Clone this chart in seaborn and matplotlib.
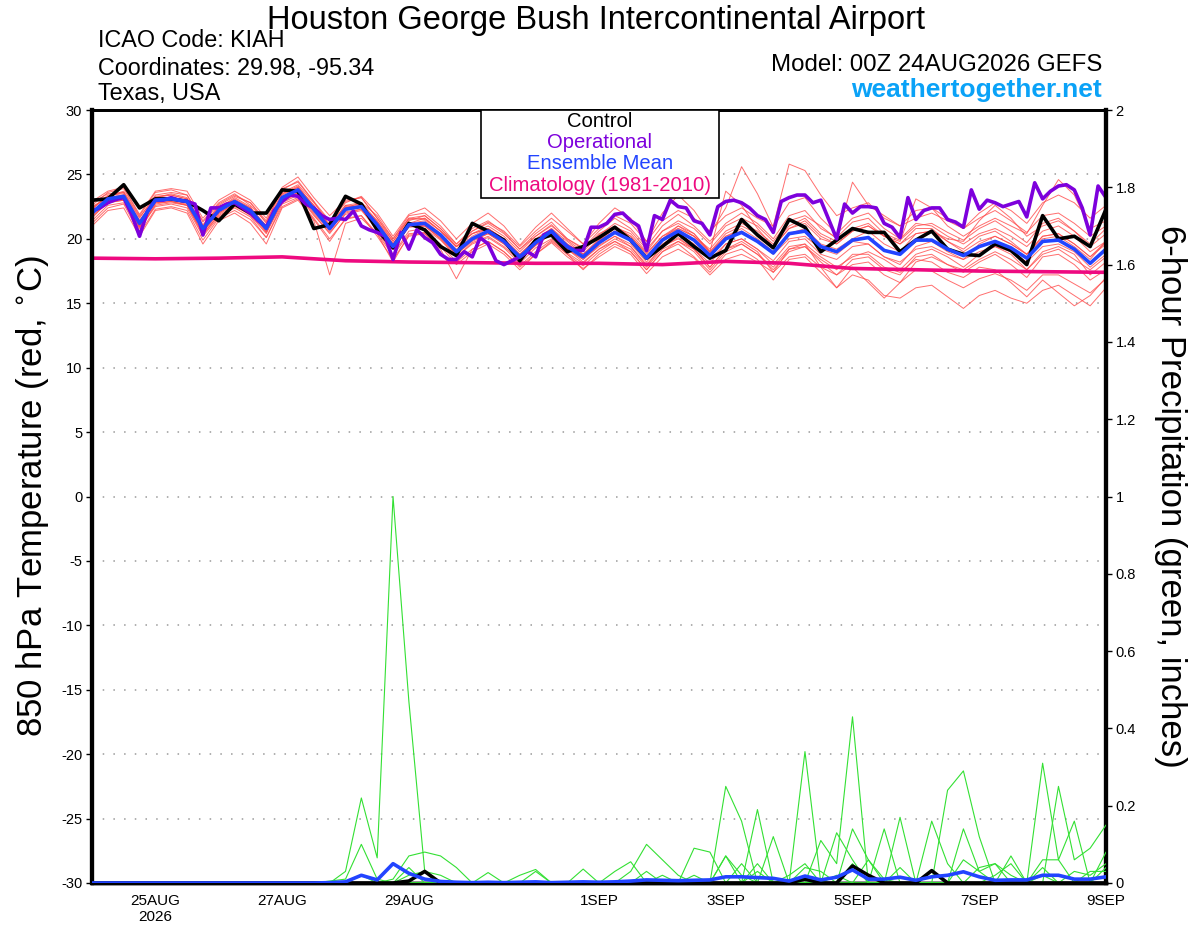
import numpy as np
import pandas as pd
import matplotlib
matplotlib.use("Agg")
import matplotlib.pyplot as plt
import seaborn as sns
from matplotlib.patches import Rectangle
from matplotlib.ticker import FormatStrFormatter

# ---------------- DATA ----------------
forecast_hours = list(range(0, 385, 6))          # 6-hourly GEFS steps
oper_hours = list(range(0, 385, 3))              # 3-hourly operational steps

tick_hours = [24, 72, 120, 192, 240, 288, 336, 384]
tick_labels = ["25AUG\n2026", "27AUG", "29AUG", "1SEP", "3SEP", "5SEP", "7SEP", "9SEP"]

control_temp = [23.0, 23.1, 24.2, 22.4, 23.1, 23.1, 22.9, 22.2, 21.4, 22.7, 22.0, 22.0, 23.8, 23.7, 20.8, 21.1,
                23.3, 22.7, 20.7, 19.3, 21.2, 20.7, 19.4, 18.7, 21.2, 20.6, 19.9, 18.3, 19.9, 20.3, 19.0, 19.4,
                20.1, 20.9, 19.9, 18.5, 19.4, 20.4, 19.4, 18.5, 19.1, 21.5, 20.3, 19.3, 21.5, 20.9, 19.0, 19.9,
                20.8, 20.5, 20.5, 19.0, 19.9, 20.6, 19.2, 18.8, 18.7, 19.6, 19.1, 18.0, 21.8, 20.0, 20.2, 19.4,
                22.3]

mean_temp = [22.0, 23.1, 23.3, 21.2, 23.0, 23.1, 22.9, 20.8, 22.2, 22.9, 22.2, 20.8, 23.2, 23.8, 22.3, 20.8,
             22.3, 22.5, 21.1, 19.4, 21.1, 21.2, 20.3, 19.0, 20.0, 20.6, 19.8, 18.6, 19.7, 20.6, 19.4, 18.6,
             19.7, 20.5, 19.9, 18.5, 19.9, 20.6, 19.9, 18.7, 20.0, 20.5, 19.8, 18.9, 20.4, 20.6, 19.4, 19.0,
             19.9, 20.1, 19.1, 18.8, 19.9, 19.9, 19.2, 18.7, 19.4, 19.8, 19.3, 18.5, 19.8, 19.9, 19.2, 18.1,
             19.2]

oper_temp = [22.15, 22.4, 22.8, 23.05, 23.2, 21.9, 20.2, 22.15,
             23.0, 23.0, 23.2, 23.0, 22.9, 22.7, 20.3, 22.4,
             22.4, 22.7, 22.8, 22.4, 22.0, 21.4, 20.9, 22.2,
             22.9, 23.4, 23.3, 22.7, 22.4, 21.8, 21.5, 21.6,
             21.5, 22.15, 21.0, 20.7, 20.5, 20.2, 18.4, 20.5,
             19.2, 20.7, 20.1, 19.7, 18.8, 18.4, 18.4, 19.0,
             18.6, 20.1, 19.6, 18.3, 18.0, 18.3, 18.6, 19.0,
             18.6, 20.3, 20.6, 19.9, 19.4, 19.1, 19.1, 20.9,
             20.9, 21.2, 21.9, 22.0, 21.4, 21.0, 19.1, 21.8,
             21.5, 23.0, 22.5, 22.4, 21.4, 21.2, 20.3, 22.5,
             22.9, 23.0, 22.8, 22.4, 21.8, 21.5, 20.5, 22.9,
             23.2, 23.4, 23.4, 22.8, 23.0, 21.5, 20.0, 22.7,
             22.0, 22.5, 22.5, 22.4, 21.2, 20.9, 20.1, 23.2,
             21.5, 22.2, 22.4, 22.4, 21.5, 21.3, 20.9, 23.8,
             22.3, 23.0, 22.8, 22.5, 22.7, 22.9, 21.7, 24.35,
             23.1, 23.7, 24.1, 24.2, 23.8, 22.4, 20.3, 24.1,
             23.2]

clim_hours = [0, 24, 48, 72, 96, 120, 144, 168, 192, 216, 240, 264, 288, 312, 336, 360, 384]
clim_temp = [18.5, 18.45, 18.5, 18.6, 18.3, 18.2, 18.15, 18.1, 18.1, 18.0, 18.25, 18.1, 17.7, 17.6, 17.5, 17.45, 17.4]

member_temp = {
    "m01": [22.6, 23.6, 23.9, 21.8, 23.6, 23.8, 23.4, 21.4, 22.8, 23.5, 22.6, 21.3, 23.9, 24.4, 22.9, 21.4, 22.9, 23.2, 21.6, 20.0, 21.8, 22.0, 21.0, 19.6, 20.8, 21.4, 20.5, 19.2, 20.4, 21.3, 20.0, 19.3, 20.6, 21.6, 20.8, 19.4, 21.0, 21.9, 21.0, 19.8, 21.2, 22.0, 21.2, 20.0, 21.8, 22.2, 20.8, 20.1, 21.3, 21.6, 20.4, 19.9, 21.0, 21.2, 20.5, 19.9, 20.8, 21.4, 20.6, 19.7, 21.2, 21.6, 20.6, 19.6, 20.8],
    "m02": [21.2, 22.4, 22.7, 20.4, 22.3, 22.5, 22.2, 19.9, 21.6, 22.2, 21.5, 20.1, 22.5, 23.1, 21.6, 20.0, 21.5, 21.8, 20.4, 18.7, 20.4, 20.5, 19.6, 18.2, 19.2, 19.8, 19.0, 17.8, 18.8, 19.7, 18.6, 17.7, 18.6, 19.4, 18.8, 17.3, 18.6, 19.2, 18.5, 17.2, 18.4, 18.8, 18.2, 17.4, 18.6, 18.8, 17.8, 17.2, 18.0, 18.2, 17.2, 16.6, 17.6, 17.5, 16.8, 16.2, 16.9, 17.3, 16.8, 16.0, 17.2, 17.2, 16.5, 15.8, 16.9],
    "m03": [22.4, 23.3, 23.7, 21.7, 23.2, 23.5, 23.2, 21.0, 22.6, 23.3, 22.8, 21.2, 23.6, 24.2, 22.8, 21.3, 22.8, 23.3, 22.0, 20.2, 21.9, 22.4, 21.4, 20.0, 21.2, 22.0, 21.0, 19.5, 20.9, 22.0, 20.8, 19.6, 21.2, 22.4, 21.6, 19.8, 22.0, 23.4, 22.2, 20.4, 22.4, 25.6, 23.5, 20.9, 22.8, 23.2, 21.6, 20.4, 21.6, 22.0, 20.8, 20.0, 21.2, 21.0, 20.2, 19.6, 20.4, 20.8, 20.2, 19.4, 20.6, 21.0, 20.2, 19.0, 19.8],
    "m04": [21.8, 22.8, 23.0, 20.9, 22.8, 22.9, 22.6, 20.5, 22.0, 22.7, 22.0, 20.6, 23.0, 23.6, 22.0, 20.6, 22.2, 22.6, 21.4, 19.6, 21.4, 21.8, 20.8, 19.4, 20.6, 21.3, 20.6, 19.4, 20.6, 21.6, 20.6, 19.6, 20.8, 21.8, 21.2, 19.8, 21.4, 22.2, 21.6, 20.6, 21.8, 22.4, 21.6, 21.0, 25.8, 25.3, 23.4, 21.8, 22.4, 22.8, 21.6, 21.0, 22.2, 22.4, 21.6, 20.8, 21.6, 22.2, 21.4, 20.5, 21.8, 22.0, 21.2, 20.2, 21.0],
    "m05": [22.3, 23.4, 23.5, 21.0, 23.3, 23.4, 23.1, 20.6, 22.4, 23.2, 22.5, 20.5, 23.5, 24.0, 22.6, 20.9, 22.5, 22.7, 21.3, 19.2, 21.0, 21.0, 20.0, 18.6, 19.7, 20.2, 19.4, 18.3, 19.5, 20.4, 19.2, 18.2, 19.2, 19.8, 19.0, 17.6, 19.0, 19.6, 18.6, 17.4, 18.8, 19.2, 18.4, 16.8, 18.4, 18.6, 17.4, 16.2, 17.2, 16.8, 15.6, 15.4, 16.2, 16.4, 15.5, 14.6, 15.6, 16.0, 15.4, 15.0, 16.0, 16.4, 15.6, 14.8, 16.2],
    "m06": [21.6, 22.9, 23.2, 20.6, 22.7, 22.9, 22.6, 20.3, 21.9, 22.6, 21.8, 20.4, 22.9, 23.5, 21.9, 20.4, 22.0, 22.3, 20.6, 18.8, 20.6, 20.8, 19.9, 18.6, 19.6, 20.1, 19.3, 18.1, 19.3, 20.0, 18.9, 18.1, 19.2, 20.0, 19.4, 17.9, 19.4, 20.1, 19.2, 18.1, 19.6, 20.0, 19.2, 18.3, 19.8, 20.0, 18.8, 18.4, 19.4, 19.6, 18.6, 18.0, 19.4, 19.8, 19.0, 18.4, 19.6, 20.2, 19.6, 18.8, 20.2, 20.4, 19.6, 18.6, 19.6],
    "m07": [22.5, 23.2, 23.4, 21.4, 23.1, 23.2, 23.0, 21.1, 22.4, 23.1, 22.4, 21.0, 23.4, 24.0, 22.6, 21.0, 22.6, 22.8, 21.4, 19.8, 21.5, 21.6, 20.6, 19.4, 20.4, 21.0, 20.2, 19.0, 20.2, 21.1, 19.9, 19.0, 20.3, 21.2, 20.6, 19.2, 20.6, 21.4, 20.8, 19.6, 21.0, 21.6, 21.0, 19.8, 21.4, 21.8, 21.0, 20.0, 24.4, 22.6, 21.8, 21.0, 21.6, 22.0, 21.4, 20.8, 22.0, 22.8, 22.2, 21.2, 22.8, 23.4, 22.8, 21.6, 22.6],
    "m08": [21.4, 22.6, 22.8, 20.8, 22.5, 22.7, 22.4, 20.2, 21.7, 22.4, 21.7, 20.1, 22.7, 23.2, 21.4, 17.2, 21.2, 21.6, 20.4, 18.2, 20.3, 20.4, 19.2, 16.9, 19.2, 19.8, 19.0, 17.9, 19.0, 19.9, 18.8, 17.9, 19.0, 19.8, 19.2, 17.8, 19.2, 19.8, 19.0, 17.6, 19.0, 19.6, 18.8, 17.6, 19.0, 19.4, 18.2, 17.2, 18.4, 18.6, 17.6, 17.2, 18.6, 18.8, 18.0, 17.4, 18.2, 18.8, 18.0, 17.0, 18.6, 18.8, 18.0, 16.8, 17.6],
    "m09": [22.2, 23.0, 23.2, 21.0, 22.9, 23.0, 22.8, 20.7, 22.1, 22.8, 22.2, 20.9, 23.2, 23.8, 22.4, 20.9, 22.4, 22.6, 21.2, 19.6, 21.2, 21.4, 20.4, 19.2, 20.2, 20.8, 20.0, 18.8, 19.9, 20.8, 19.6, 18.8, 20.0, 20.9, 20.4, 19.0, 20.6, 21.2, 20.4, 19.0, 23.7, 22.6, 20.8, 19.4, 20.8, 21.4, 20.2, 19.6, 20.6, 21.0, 20.2, 19.6, 20.8, 20.8, 19.8, 19.2, 20.2, 20.6, 19.8, 18.8, 20.0, 20.2, 19.4, 18.4, 19.8],
    "m10": [21.9, 23.0, 23.1, 21.0, 22.8, 22.9, 22.7, 20.6, 22.0, 22.7, 22.0, 20.7, 23.0, 23.6, 22.1, 20.7, 22.1, 22.3, 20.9, 19.2, 20.9, 21.0, 20.1, 18.8, 19.8, 20.4, 19.6, 18.4, 19.5, 20.4, 19.2, 18.4, 19.4, 20.2, 19.6, 18.2, 19.6, 20.4, 19.6, 18.4, 19.6, 20.0, 19.2, 18.0, 19.4, 19.6, 17.8, 16.2, 17.8, 16.6, 15.4, 16.6, 18.2, 18.6, 18.0, 17.6, 18.4, 19.0, 18.4, 17.6, 18.8, 19.2, 18.4, 17.6, 18.6],
    "m11": [22.8, 23.5, 23.6, 21.6, 23.4, 23.6, 23.4, 21.3, 22.7, 23.4, 22.8, 21.4, 23.8, 24.5, 22.9, 21.0, 22.4, 22.8, 21.8, 20.0, 21.6, 21.8, 20.8, 19.6, 20.6, 21.2, 20.4, 19.2, 20.2, 21.0, 20.0, 19.2, 20.4, 21.0, 20.2, 18.9, 20.2, 20.8, 20.2, 19.0, 20.2, 20.6, 19.8, 18.8, 20.0, 20.2, 19.2, 18.8, 19.8, 19.6, 18.6, 18.2, 19.2, 19.4, 18.8, 18.4, 19.0, 19.4, 19.0, 18.2, 19.4, 19.6, 19.0, 17.8, 18.8],
    "m12": [21.7, 22.8, 23.0, 20.9, 22.6, 22.8, 22.6, 20.4, 21.8, 22.5, 21.9, 20.5, 22.8, 23.4, 21.8, 20.5, 21.9, 22.2, 20.8, 19.2, 21.0, 21.0, 20.0, 18.8, 19.9, 20.5, 19.7, 18.5, 19.8, 20.6, 19.4, 18.6, 19.9, 20.8, 20.2, 18.8, 20.2, 21.0, 20.4, 19.0, 20.4, 21.0, 20.4, 19.4, 20.8, 21.2, 20.0, 19.6, 20.6, 21.0, 20.2, 19.8, 23.1, 22.4, 21.0, 20.2, 21.0, 21.6, 21.0, 20.4, 22.6, 24.6, 23.4, 20.8, 21.4],
    "m13": [22.1, 23.2, 23.4, 21.3, 23.1, 23.2, 23.0, 20.9, 22.3, 23.0, 22.3, 20.9, 23.3, 23.9, 22.4, 20.9, 22.4, 22.6, 21.0, 19.3, 21.0, 21.1, 20.2, 18.9, 19.9, 20.4, 19.6, 18.4, 19.5, 20.4, 19.2, 18.4, 19.5, 20.2, 19.4, 18.0, 19.4, 20.0, 19.2, 17.8, 19.2, 19.6, 18.8, 17.8, 19.2, 19.4, 18.4, 17.6, 18.8, 18.8, 17.8, 17.4, 18.4, 18.2, 17.4, 17.0, 17.8, 17.6, 16.6, 15.5, 16.8, 15.8, 14.8, 15.6, 17.0],
    "m14": [22.9, 23.7, 24.0, 21.9, 23.7, 23.9, 23.7, 21.6, 23.0, 23.7, 23.0, 21.6, 24.0, 24.8, 23.2, 21.8, 23.0, 23.2, 21.6, 19.8, 21.6, 21.5, 20.6, 19.4, 20.4, 20.8, 20.0, 18.6, 19.8, 20.6, 19.6, 18.8, 19.8, 20.6, 20.0, 18.6, 20.0, 20.8, 20.2, 19.2, 20.6, 21.2, 20.6, 19.6, 21.0, 21.6, 20.4, 19.8, 20.8, 21.2, 20.2, 19.6, 20.4, 20.6, 20.0, 19.8, 21.4, 22.6, 21.6, 20.2, 21.0, 21.4, 20.6, 19.4, 20.4],
    "m15": [21.0, 22.2, 22.4, 20.2, 22.2, 22.4, 22.0, 19.6, 21.4, 22.0, 21.2, 19.6, 22.4, 23.0, 21.5, 19.8, 21.6, 21.8, 20.2, 18.4, 20.2, 20.4, 19.4, 18.0, 19.0, 19.6, 18.8, 17.6, 18.8, 19.8, 18.8, 17.6, 18.8, 19.6, 19.0, 17.6, 19.0, 19.8, 19.2, 17.8, 19.2, 19.8, 19.0, 17.4, 19.2, 19.6, 18.6, 17.8, 18.6, 19.0, 18.4, 17.6, 18.8, 19.2, 18.6, 17.8, 18.8, 19.4, 18.8, 17.6, 19.0, 19.4, 18.8, 17.2, 18.2],
    "m16": [22.3, 23.3, 23.6, 21.4, 23.2, 23.4, 23.1, 21.0, 22.5, 23.0, 22.4, 21.0, 23.5, 24.1, 22.5, 21.1, 22.6, 22.4, 21.2, 19.6, 21.2, 21.6, 20.6, 19.4, 20.4, 20.8, 20.0, 18.8, 20.0, 20.8, 19.8, 18.8, 19.9, 20.6, 20.0, 18.6, 20.0, 21.0, 20.2, 18.9, 20.2, 20.8, 20.0, 19.0, 20.4, 20.8, 19.6, 19.2, 20.0, 20.6, 19.6, 19.0, 20.4, 20.6, 19.8, 19.0, 19.8, 20.2, 19.6, 18.8, 20.2, 20.4, 19.6, 18.6, 19.8],
}

control_precip = [0, 0, 0, 0, 0, 0, 0, 0, 0, 0, 0, 0, 0, 0, 0, 0,
                  0, 0, 0, 0, 0.005, 0.03, 0, 0, 0, 0, 0, 0, 0, 0, 0, 0,
                  0, 0, 0, 0, 0, 0, 0, 0, 0, 0, 0, 0, 0, 0.01, 0, 0,
                  0.044, 0.02, 0, 0, 0, 0.032, 0, 0, 0, 0, 0, 0, 0, 0, 0, 0,
                  0]

mean_precip = [0, 0, 0, 0, 0, 0, 0, 0, 0, 0, 0, 0, 0, 0, 0, 0.001,
               0.003, 0.02, 0.008, 0.05, 0.025, 0.01, 0.004, 0.002, 0.001, 0.002, 0.001, 0.002, 0.003, 0.001, 0.002, 0.003,
               0.002, 0.003, 0.005, 0.008, 0.007, 0.006, 0.007, 0.008, 0.016, 0.016, 0.014, 0.012, 0.005, 0.018, 0.008, 0.015,
               0.034, 0.01, 0.01, 0.015, 0.007, 0.016, 0.02, 0.029, 0.016, 0.007, 0.008, 0.008, 0.02, 0.02, 0.01, 0.01,
               0.016]

member_precip = {
    "g1": [0, 0, 0, 0, 0, 0, 0, 0, 0, 0, 0, 0, 0, 0, 0, 0,
           0.03, 0.22, 0.065, 1.0, 0.47, 0.03, 0, 0, 0, 0, 0, 0, 0, 0, 0, 0,
           0, 0, 0, 0, 0, 0, 0, 0, 0.07, 0.02, 0, 0, 0, 0, 0, 0.02,
           0, 0, 0, 0, 0, 0, 0, 0.06, 0.03, 0, 0, 0, 0, 0, 0, 0,
           0],
    "g2": [0, 0, 0, 0, 0, 0, 0, 0, 0, 0, 0, 0, 0, 0, 0, 0.005,
           0.01, 0.10, 0.01, 0, 0.04, 0, 0, 0, 0, 0, 0, 0, 0, 0, 0, 0,
           0, 0, 0.03, 0.10, 0.06, 0.02, 0, 0, 0.25, 0.16, 0, 0, 0, 0, 0, 0,
           0.14, 0.06, 0, 0, 0, 0, 0, 0, 0, 0, 0, 0, 0, 0.25, 0.06, 0.09,
           0.15],
    "g3": [0, 0, 0, 0, 0, 0, 0, 0, 0, 0, 0, 0, 0, 0, 0, 0,
           0, 0, 0, 0.01, 0.07, 0.08, 0.07, 0.04, 0, 0.027, 0, 0, 0, 0, 0, 0,
           0, 0, 0, 0, 0, 0, 0.09, 0.08, 0, 0, 0.19, 0, 0, 0.34, 0, 0,
           0, 0, 0, 0, 0, 0.16, 0.05, 0, 0, 0, 0, 0, 0.31, 0.06, 0.16, 0,
           0.08],
    "g4": [0, 0, 0, 0, 0, 0, 0, 0, 0, 0, 0, 0, 0, 0, 0, 0,
           0, 0, 0, 0, 0, 0, 0, 0, 0, 0, 0, 0.02, 0.035, 0, 0, 0.036,
           0, 0, 0, 0, 0, 0, 0, 0, 0, 0.05, 0, 0.12, 0, 0, 0.11, 0.05,
           0.43, 0, 0, 0.17, 0, 0, 0, 0.14, 0.03, 0.05, 0, 0, 0, 0, 0, 0,
           0.04],
    "g5": [0, 0, 0, 0, 0, 0, 0, 0, 0, 0, 0, 0, 0, 0, 0, 0,
           0, 0.02, 0, 0, 0, 0, 0, 0, 0, 0, 0, 0, 0, 0, 0, 0,
           0, 0.03, 0.055, 0, 0, 0, 0, 0, 0.07, 0, 0.05, 0, 0, 0, 0, 0.13,
           0.06, 0, 0.14, 0, 0, 0, 0.24, 0.29, 0.12, 0, 0.07, 0, 0.04, 0, 0, 0,
           0],
    "g6": [0, 0, 0, 0, 0, 0, 0, 0, 0, 0, 0, 0, 0, 0, 0, 0,
           0, 0, 0, 0, 0, 0, 0, 0, 0, 0, 0, 0, 0, 0, 0, 0,
           0, 0, 0, 0, 0.02, 0, 0, 0, 0, 0, 0, 0, 0.02, 0.05, 0, 0,
           0, 0.06, 0.01, 0, 0, 0.03, 0, 0, 0.04, 0.05, 0.02, 0, 0.06, 0.06, 0, 0.03,
           0.03],
    "g7": [0, 0, 0, 0, 0, 0, 0, 0, 0, 0, 0, 0, 0, 0, 0, 0,
           0, 0, 0, 0, 0.02, 0.03, 0.02, 0, 0, 0, 0, 0, 0.03, 0, 0, 0,
           0, 0, 0, 0.03, 0, 0, 0.02, 0, 0, 0, 0.03, 0, 0, 0.04, 0.03, 0,
           0.05, 0, 0, 0.04, 0, 0, 0, 0, 0, 0.02, 0.05, 0, 0.02, 0, 0.03, 0.02,
           0.05],
}

# ---------------- STYLE ----------------
sns.set_style("white")
plt.rcParams["font.family"] = ["Liberation Sans", "DejaVu Sans"]
plt.rcParams["text.color"] = "black"
plt.rcParams["axes.labelcolor"] = "black"
plt.rcParams["xtick.color"] = "black"
plt.rcParams["ytick.color"] = "black"
plt.rcParams["axes.unicode_minus"] = False

C_RED = "#ff4a4a"
C_GREEN = "#33e033"
C_PURPLE = "#7d00dc"
C_BLUE = "#2244ff"
C_PINK = "#ee0a80"
C_WEB = "#0aa2f7"

W, H = 1200, 927
fig = plt.figure(figsize=(W / 100, H / 100), dpi=100)
ax = fig.add_axes([92 / W, (H - 883) / H, 1014 / W, 773 / H])
ax2 = ax.twinx()

# temperature members
temp_long = pd.DataFrame(
    [(m, h, v) for m, vals in member_temp.items() for h, v in zip(forecast_hours, vals)],
    columns=["member", "hour", "temp"],
)
sns.lineplot(data=temp_long, x="hour", y="temp", units="member", estimator=None,
             color=C_RED, linewidth=0.7, alpha=0.8, ax=ax, legend=False)
sns.lineplot(x=clim_hours, y=clim_temp, color=C_PINK, linewidth=2.6, ax=ax)
sns.lineplot(x=forecast_hours, y=control_temp, color="black", linewidth=2.6, ax=ax)
sns.lineplot(x=oper_hours, y=oper_temp, color=C_PURPLE, linewidth=2.6, ax=ax)
sns.lineplot(x=forecast_hours, y=mean_temp, color=C_BLUE, linewidth=2.6, ax=ax)

# precipitation
pr_long = pd.DataFrame(
    [(m, h, v) for m, vals in member_precip.items() for h, v in zip(forecast_hours, vals)],
    columns=["member", "hour", "precip"],
)
sns.lineplot(data=pr_long, x="hour", y="precip", units="member", estimator=None,
             color=C_GREEN, linewidth=0.8, ax=ax2, legend=False, zorder=3)
sns.lineplot(x=forecast_hours, y=control_precip, color="black", linewidth=2.6, ax=ax2, zorder=4)
sns.lineplot(x=forecast_hours, y=mean_precip, color=C_BLUE, linewidth=2.6, ax=ax2, zorder=5)

# axes
ax.set_xlim(0, 384)
ax.set_ylim(-30, 30)
ax2.set_ylim(0, 2)
ax.set_yticks(list(range(-30, 31, 5)))
ax2.set_yticks([round(0.2 * k, 1) for k in range(11)])
ax2.yaxis.set_major_formatter(FormatStrFormatter("%g"))
ax.set_xticks(tick_hours)
ax.set_xticklabels(tick_labels, fontsize=11, linespacing=1.15)
ax.set_xlabel("")
ax.set_ylabel("")
ax2.set_ylabel("")
ax.tick_params(axis="x", length=0, pad=8)
ax.tick_params(axis="y", direction="out", length=4, width=1, labelsize=10.5, pad=3, left=True)
ax2.tick_params(axis="y", direction="out", length=4, width=1, labelsize=10.5, pad=3, right=True)

ax.yaxis.grid(True, linestyle=(0, (1, 6)), color="#9a9a9a", linewidth=1.1)
ax.xaxis.grid(False)
ax2.grid(False)

for a in (ax, ax2):
    for s in a.spines.values():
        s.set_color("black")
    a.spines["left"].set_linewidth(3)
    a.spines["right"].set_linewidth(3)
    a.spines["bottom"].set_linewidth(2.5)
    a.spines["top"].set_linewidth(2)

# axis titles
fig.text(33 / W, 1 - 496 / H, "850 hPa Temperature (red, $^{\\circ}$C)", rotation=90,
         ha="center", va="center", fontsize=25)
fig.text(1170 / W, 1 - 496 / H, "6-hour Precipitation (green, inches)", rotation=270,
         ha="center", va="center", fontsize=25)

# header texts (baseline positioned)
fig.text(596 / W, 1 - 28.5 / H, "Houston George Bush Intercontinental Airport",
         ha="center", va="baseline", fontsize=23.5)
fig.text(98 / W, 1 - 47 / H, "ICAO Code: KIAH", ha="left", va="baseline", fontsize=16.8)
fig.text(98 / W, 1 - 75 / H, "Coordinates: 29.98, -95.34", ha="left", va="baseline", fontsize=16.8)
fig.text(98 / W, 1 - 100 / H, "Texas, USA", ha="left", va="baseline", fontsize=16.8)
fig.text(1102 / W, 1 - 71 / H, "Model: 00Z 24AUG2026 GEFS", ha="right", va="baseline", fontsize=17.3)
fig.text(1102 / W, 1 - 97 / H, "weathertogether.net", ha="right", va="baseline",
         fontsize=19, fontweight="bold", color=C_WEB)

# legend box
fig.patches.append(Rectangle((481 / W, 1 - 198 / H), 238 / W, 88 / H, transform=fig.transFigure,
                             facecolor="white", edgecolor="black", linewidth=1.2, zorder=10))
for txt, col, y in [("Control", "black", 127), ("Operational", C_PURPLE, 148),
                    ("Ensemble Mean", C_BLUE, 169), ("Climatology (1981-2010)", C_PINK, 191)]:
    fig.text(600 / W, 1 - y / H, txt, ha="center", va="baseline", fontsize=14.6, color=col, zorder=11)

fig.savefig("out.png", dpi=100)
